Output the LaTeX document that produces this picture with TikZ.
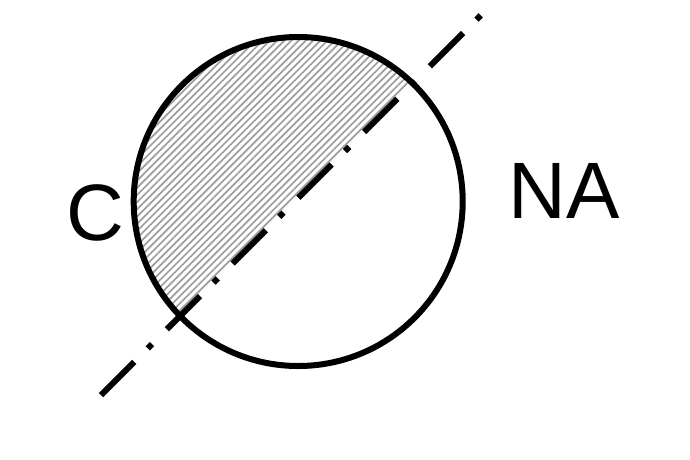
\documentclass[tikz,border=0pt]{standalone}
\usepackage{fontspec}
\setmainfont{Liberation Sans}
\begin{document}
\begin{tikzpicture}[x=1pt,y=-1pt,
  outline/.style={line width=6pt, draw=black},
  hatchline/.style={line width=1.7pt, draw=black!38},
  axisline/.style={line width=6pt, draw=black, dash pattern=on 47pt off 19pt on 6pt off 21pt},
  bigtext/.style={font=\fontsize{80}{96}\selectfont, inner sep=0pt, anchor=base}]
  \useasboundingbox (0,0) rectangle (690,459);
  \coordinate (o) at (298.2,201.5);
  \coordinate (a) at (101,395);
  \coordinate (b) at (481.5,14.5);
  % hatching of the upper-left segment
  \begin{scope}
    \clip (o) circle (162);
    \clip (0,0) -- (494,0) -- (0,494) -- cycle;
    \foreach \c in {260,267.2,...,500} {
      \draw[hatchline] (\c,0) -- (\c-500,500);
    }
  \end{scope}
  \draw[outline] (o) circle (164.5);
  \draw[axisline] (a) -- (b);
  \node[bigtext] (lc) at (95.5,240.7) {C};
  \node[bigtext] (lna) at (564,218.3) {NA};
\end{tikzpicture}
\end{document}
